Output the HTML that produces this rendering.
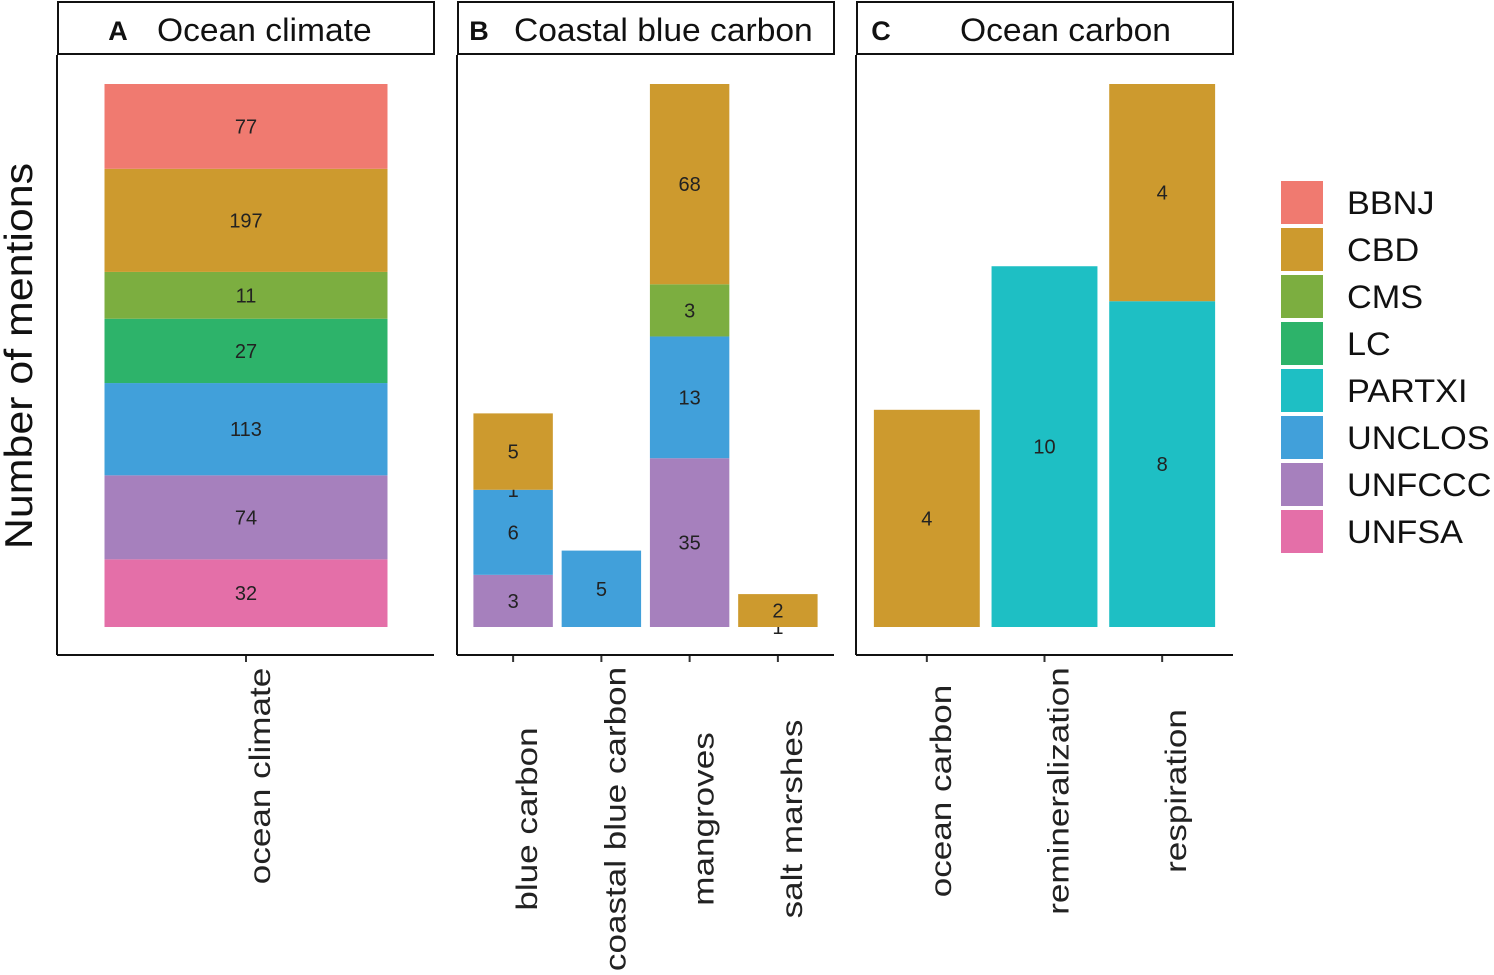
<!DOCTYPE html>
<html><head><meta charset="utf-8"><style>
body{margin:0;background:#fff}
svg text{font-family:"Liberation Sans",Arial,sans-serif}
</style></head><body>
<svg id="chart" width="1494" height="970" xmlns="http://www.w3.org/2000/svg">
<text transform="translate(32,356) rotate(-90) scale(1.1,1)" text-anchor="middle" font-size="39" fill="#111">Number of mentions</text>
<g id="panels"></g>
<g id="legend"></g>
</svg>
<script>
const agencies = ["BBNJ","CBD","CMS","LC","PARTXI","UNCLOS","UNFCCC","UNFSA"];
const colors = ["#F07A70","#CD9A2E","#7CAE40","#2DB36A","#1EBFC4","#41A0DA","#A680BD","#E46FA8"];
const panelTitles = ["Ocean climate","Coastal blue carbon","Ocean carbon"];
const panelLetters = ["A","B","C"];
const panelCategories = [["ocean climate"],["blue carbon","coastal blue carbon","mangroves","salt marshes"],["ocean carbon","remineralization","respiration"]];
// counts per category, ordered as agencies (null = absent)
const panelValues = [
 [[77,197,11,27,null,113,74,32]],
 [[null,5,1,null,null,6,3,null],[null,null,null,null,null,5,null,null],[null,68,3,null,null,13,35,null],[null,2,null,null,null,null,1,null]],
 [[null,4,null,null,null,null,null,null],[null,null,null,null,10,null,null,null],[null,4,null,null,8,null,null,null]]
];

const NS="http://www.w3.org/2000/svg";
function mk(tag,attrs,parent){const e=document.createElementNS(NS,tag);for(const k in attrs)e.setAttribute(k,attrs[k]);parent.appendChild(e);return e;}
const panelsG=document.getElementById('panels');
const panelX=[57,457,856], panelW=377;
const letterX=[118,479,881], titleX=[157,514,960], labelCY=[776,819,791];
const plotTop=55, plotBottom=655, barTop=84, barBottom=627;
const barFrac=[0.75,0.9,0.9];
for(let p=0;p<3;p++){
  const x0=panelX[p];
  const g=mk('g',{},panelsG);
  
  
  const hb=mk('rect',{x:x0+1,y:2,width:panelW-1,height:52,fill:'#fff',stroke:'#111','stroke-width':2},g);
  
  
  const lt=mk('text',{x:letterX[p],y:40,'font-size':27,'font-weight':'bold','text-anchor':'middle',fill:'#111'},g);
  lt.textContent=panelLetters[p];
  
  
  const tt=mk('text',{transform:`translate(${titleX[p]},41) scale(1.05,1)`,'font-size':32,fill:'#111'},g);
  tt.textContent=panelTitles[p];
  
  
  const cats=panelCategories[p], vals=panelValues[p];
  const tot=vals.map(v=>v.reduce((s,c)=>s+(c?Math.log10(c):0),0));
  const mx=Math.max(...tot);
  const sc=(barBottom-barTop)/mx;
  const n=cats.length;
  const left=x0+(p==0?0:12), right=x0+panelW-(p==0?0:12);
  const step=(p==0)?panelW:(right-left)/n;
  for(let i=0;i<n;i++){
    const cx=(p==0)?x0+189:left+step*(i+0.5);
    const bw=(p==0)?283:step*barFrac[p];
    let y=barBottom;
    for(let a=agencies.length-1;a>=0;a--){
      const v=vals[i][a]; if(v==null) continue;
      const h=Math.log10(v)*sc;
      const r=mk('rect',{x:cx-bw/2,y:y-h,width:bw,height:h,fill:colors[a]},g);
      
      
      const t=mk('text',{x:cx,y:y-h/2+7,'font-size':20,'text-anchor':'middle',fill:'#222'},g);
      t.textContent=v;
      
      
      y-=h;
    }
    mk('line',{x1:cx,x2:cx,y1:plotBottom,y2:plotBottom+7,stroke:'#333','stroke-width':2},g);
    const xl=mk('text',{transform:`translate(${cx+24},${labelCY[p]}) rotate(-90) scale(1.17,1)`,'font-size':30,'text-anchor':'middle',fill:'#222'},g);
    xl.textContent=cats[i];
    
    
  }
  mk('line',{x1:x0,x2:x0,y1:plotTop,y2:plotBottom,stroke:'#111','stroke-width':2},g);
  mk('line',{x1:x0,x2:x0+panelW,y1:plotBottom,y2:plotBottom,stroke:'#111','stroke-width':2},g);
}
const lg=document.getElementById('legend');


for(let a=0;a<agencies.length;a++){
  const y=181+a*47;
  const g=mk('g',{},lg);
  
  
  mk('rect',{x:1281,y:y,width:42,height:43,fill:colors[a]},g);
  const t=mk('text',{transform:`translate(1347,${y+33}) scale(1.07,1)`,'font-size':32,fill:'#111'},g);
  t.textContent=agencies[a];
}
</script>
</body></html>
